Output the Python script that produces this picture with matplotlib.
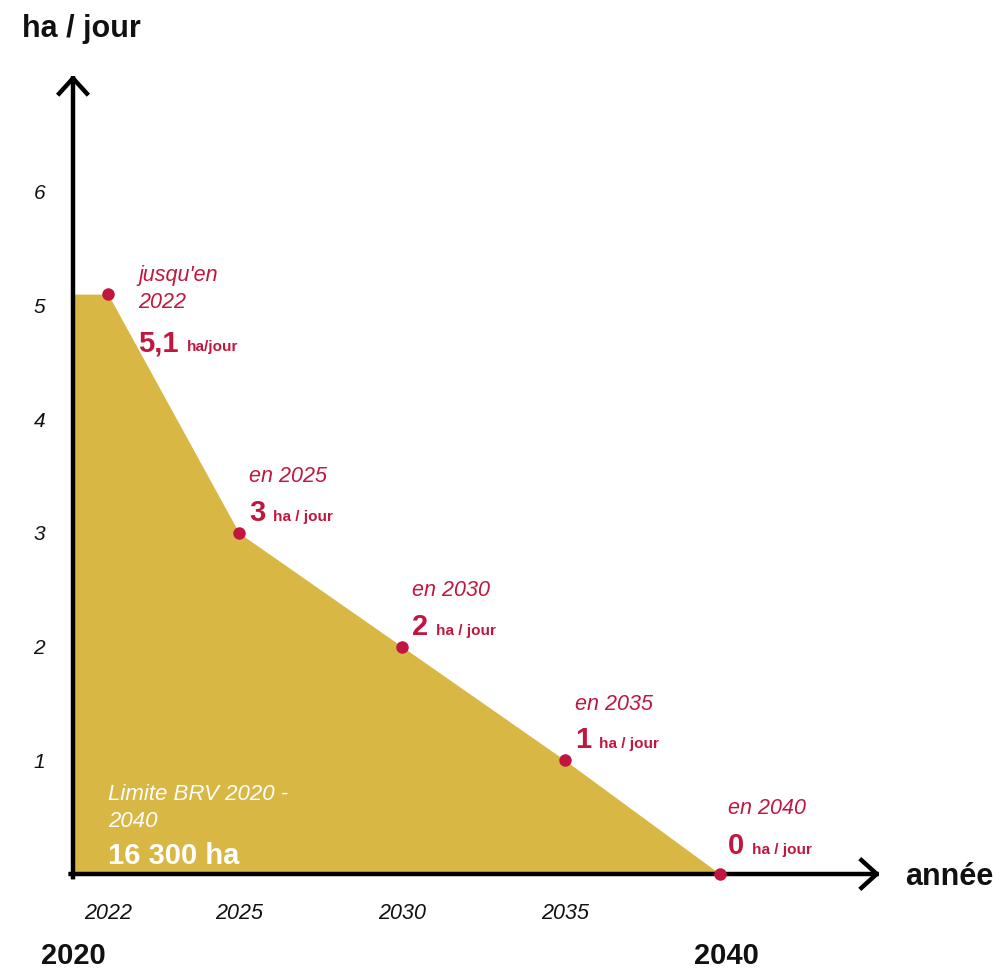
import numpy as np
import matplotlib
matplotlib.use("Agg")
import matplotlib.pyplot as plt
from matplotlib.transforms import blended_transform_factory

plt.rcParams["font.family"] = ["Liberation Sans", "DejaVu Sans"]

# --- data -------------------------------------------------------------
start_year = 2020
years = [2022, 2025, 2030, 2035, 2040]
rates = [5.1, 3, 2, 1, 0]               # ha / jour
when_labels = ["jusqu'en\n2022", "en 2025", "en 2030", "en 2035", "en 2040"]
unit_labels = ["ha/jour", "ha / jour", "ha / jour", "ha / jour", "ha / jour"]
x_tick_years = [2022, 2025, 2030, 2035]
y_ticks = [1, 2, 3, 4, 5, 6]
total_label = "16 300 ha"
period_label = "Limite BRV 2020 -\n2040"

# --- style ------------------------------------------------------------
FILL = "#D8B745"
RED = "#C1163F"
INK = "#111111"

# piecewise-linear year scale (early years compressed)
bp_years = np.array([2000, 2020, 2022, 2025, 2030, 2035, 2040, 2060], dtype=float)
bp_pos = np.array([-350, 0, 35, 166, 329, 492, 647, 1267], dtype=float)


def fwd(x):
    return np.interp(x, bp_years, bp_pos)


def inv(p):
    return np.interp(p, bp_pos, bp_years)


W, H = 1000, 968
fig = plt.figure(figsize=(W / 100, H / 100), dpi=100)
ax = fig.add_axes([73 / W, 1 - 874 / H, 807 / W, (874 - 75) / H])
ax.set_xscale("function", functions=(fwd, inv))
ax.set_xlim(start_year, inv(807))
ax.set_ylim(0, (874 - 75) / 113.7)

for s in ax.spines.values():
    s.set_visible(False)

# filled consumption envelope
xs = [start_year] + years
ys = [rates[0]] + rates
ax.fill_between(xs, ys, 0, color=FILL, lw=0, zorder=1)

# axes arrows
arrow = dict(arrowstyle="->,head_length=0.55,head_width=0.5", lw=3.2,
             color="black", mutation_scale=20, shrinkA=0, shrinkB=0,
             capstyle="projecting")
ax.annotate("", xy=(1.0, 0), xytext=(-0.003, 0), xycoords="axes fraction",
            arrowprops=arrow, zorder=3, annotation_clip=False)
ax.annotate("", xy=(0, 1.0), xytext=(0, -0.004), xycoords="axes fraction",
            arrowprops=arrow, zorder=3, annotation_clip=False)

# points
ax.plot(years, rates, "o", color=RED, ms=9, mec="none", zorder=4, clip_on=False)

# ticks
ax.set_yticks(y_ticks)
ax.set_yticklabels([str(v) for v in y_ticks], style="italic", fontsize=15, color=INK)
ax.set_xticks(x_tick_years)
ax.set_xticklabels([str(v) for v in x_tick_years], style="italic", fontsize=15.5, color=INK)
ax.tick_params(axis="y", length=0, pad=20)
ax.tick_params(axis="x", length=0, pad=21)
ax.xaxis.set_minor_locator(matplotlib.ticker.NullLocator())

# bold period bounds under the axis
tb = blended_transform_factory(ax.transData, fig.transFigure)
ax.text(start_year, 1 - 956 / H, str(start_year), transform=tb, ha="center",
        va="center", fontsize=21, fontweight="bold", color=INK)
ax.text(years[-1] + 0.2, 1 - 956 / H, str(years[-1]), transform=tb, ha="center",
        va="center", fontsize=21, fontweight="bold", color=INK)

# axis titles
fig.text(22 / W, 1 - 29 / H, "ha / jour", ha="left", va="center",
         fontsize=22, fontweight="bold", color=INK)
fig.text(905 / W, 1 - 877 / H, "année", ha="left", va="center",
         fontsize=22, fontweight="bold", color=INK)

# point annotations: (dx, dy_when_center, dy_value_baseline) in pixels
offsets = {2022: (30, 5, -57), 2040: (8, 65, 20)}
default_offset = (10, 56, 12)
for yr, rate, when, unit in zip(years, rates, when_labels, unit_labels):
    dx, dyw, dyv = offsets.get(yr, default_offset)
    ax.annotate(when, xy=(yr, rate), xytext=(dx, dyw), textcoords="offset pixels",
                ha="left", va="center", style="italic", fontsize=15.5,
                color=RED, linespacing=1.4, zorder=5, annotation_clip=False)
    val = ax.annotate(f"{rate:g}".replace(".", ","), xy=(yr, rate),
                      xytext=(dx, dyv), textcoords="offset pixels",
                      ha="left", va="baseline", fontsize=21, fontweight="bold",
                      color=RED, zorder=5, annotation_clip=False)
    ax.annotate(unit, xy=(1, 0), xycoords=val, xytext=(8, 6),
                textcoords="offset pixels", ha="left", va="baseline",
                fontsize=11, fontweight="bold", color=RED, zorder=5,
                annotation_clip=False)

# total inside the filled area
ax.annotate(period_label, xy=(start_year, 0), xytext=(35, 66),
            textcoords="offset pixels", ha="left", va="center",
            style="italic", fontsize=16, color="white", linespacing=1.35, zorder=5)
ax.annotate(total_label, xy=(start_year, 0), xytext=(35, 18),
            textcoords="offset pixels", ha="left", va="center",
            fontsize=21, fontweight="bold", color="white", zorder=5)

fig.savefig("out.png", dpi=100, facecolor="white")
